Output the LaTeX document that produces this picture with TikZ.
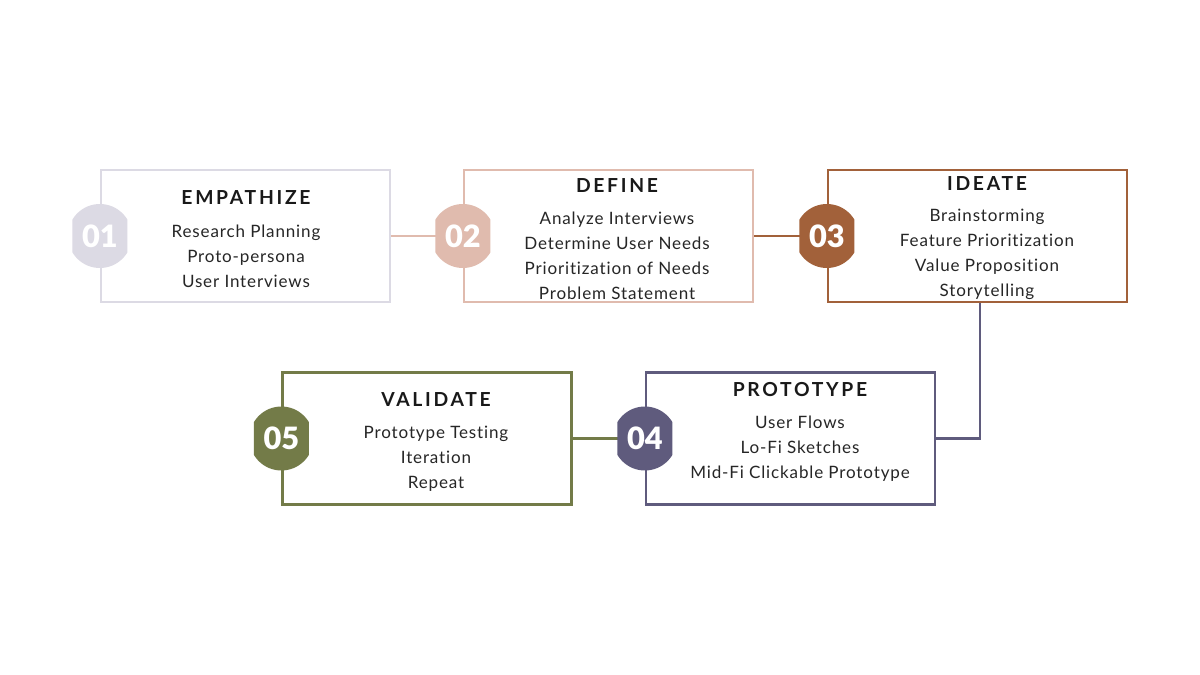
\documentclass[tikz,border=0pt]{standalone}
\usepackage{fontspec}
\setmainfont{Lato}
\newfontfamily\headfont[LetterSpace=14,RawFeature=-liga]{Lato}
\newfontfamily\itemfont[LetterSpace=5,RawFeature=-liga]{Lato}
\newfontfamily\numfont{Lato Black}
\usepackage{tikz}
\usetikzlibrary{positioning}

\definecolor{empcol}{HTML}{DCDAE4}
\definecolor{defcol}{HTML}{E0BBAE}
\definecolor{idecol}{HTML}{A2613A}
\definecolor{procol}{HTML}{5F5B7D}
\definecolor{valcol}{HTML}{737B48}

\begin{document}
\begin{tikzpicture}[x=0.02cm, y=-0.02cm,
  stage/.style={draw=#1, line width=1.3pt, fill=white, minimum width=5.78cm, minimum height=2.64cm, inner sep=0},
  badge/.style={minimum width=1.1cm, minimum height=1.3cm, inner sep=0, text=white,
    font=\numfont\fontsize{17.5}{17.5}\selectfont,
    path picture={\fill[#1] (path picture bounding box.center) circle (0.64cm);}},
  headtext/.style={font=\headfont\bfseries\fontsize{11}{12}\selectfont, text=black!90},
  itemtext/.style={align=center, font=\itemfont\fontsize{9.7}{14.2}\selectfont, text=black!85},
  link/.style={draw=#1, line width=1.3pt}]
\fill[white] (0,0) rectangle (1200,675);
\useasboundingbox (0,0) rectangle (1200,675);

% boxes
\node[stage=empcol] (emp) at (245.5,236) {};
\node[stage=defcol] (def) at (608.5,236) {};
\node[stage=idecol, minimum width=5.98cm] (ide) at (977.5,236) {};
\node[stage=procol] (pro) at (790.5,438.5) {};
\node[stage=valcol] (val) at (427,438.5) {};

% connectors
\draw[link=defcol] (emp.east) -- (463,236);
\draw[link=idecol] (def.east) -- (827,236);
\draw[link=procol] ([xshift=0.05cm]ide.south) |- (pro.east);
\draw[link=valcol] (pro.west) -- (val.east);

% numbers
\node[badge=empcol] (n1) at (emp.west) {01};
\node[badge=defcol] (n2) at (def.west) {02};
\node[badge=idecol] (n3) at (ide.west) {03};
\node[badge=procol] (n4) at (pro.west) {04};
\node[badge=valcol] (n5) at (val.west) {05};

% texts
\node[headtext] (empT) at (246,198) {EMPATHIZE};
\node[itemtext] (empL) at (246,256) {Research Planning\\Proto-persona\\User Interviews};
\node[headtext] (defT) at (617,186) {DEFINE};
\node[itemtext] (defL) at (617,255.5) {Analyze Interviews\\Determine User Needs\\Prioritization of Needs\\Problem Statement};
\node[headtext] (ideT) at (987,184) {IDEATE};
\node[itemtext] (ideL) at (987,254.5) {Brainstorming\\Feature Prioritization\\Value Proposition\\Storytelling};
\node[headtext] (proT) at (800,390) {PROTOTYPE};
\node[itemtext] (proL) at (800,449) {User Flows\\Lo-Fi Sketches\\Mid-Fi Clickable Prototype};
\node[headtext] (valT) at (436,400) {VALIDATE};
\node[itemtext] (valL) at (436,459) {Prototype Testing\\Iteration\\Repeat};
\end{tikzpicture}
\end{document}
